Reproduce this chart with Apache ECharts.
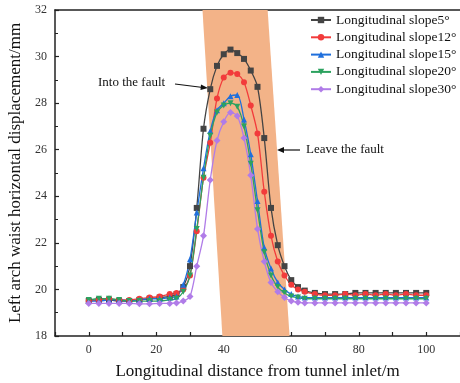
<!DOCTYPE html>
<html>
<head>
<meta charset="utf-8">
<script src="https://cdn.jsdelivr.net/npm/echarts@6/dist/echarts.min.js"></script>
<style>
  html, body { margin: 0; padding: 0; background: #fff; }
  #main { width: 460px; height: 383px; }
</style>
</head>
<body>
<div id="main"></div>
<script>
// distance along tunnel (m)
var distance = [0, 3, 6, 9, 12, 15, 18, 21, 24, 26, 28, 30, 32, 34, 36, 38, 40, 42, 44, 46, 48,
    50, 52, 54, 56, 58, 60, 62, 64, 67, 70, 73, 76, 79, 82, 85, 88, 91, 94, 97, 100];

var slope5 = [19.5, 19.55, 19.55, 19.5, 19.5, 19.55, 19.6, 19.65, 19.7, 19.8, 20.1, 21.0, 23.5, 26.9, 28.6, 29.6, 30.1, 30.3, 30.15, 29.9, 29.4,
    28.7, 26.5, 23.5, 21.9, 21.0, 20.4, 20.1, 19.95, 19.85, 19.8, 19.8, 19.8, 19.85, 19.85, 19.85, 19.85, 19.85, 19.85, 19.85, 19.85];
var slope12 = [19.5, 19.55, 19.6, 19.55, 19.55, 19.6, 19.65, 19.7, 19.8, 19.85, 20.0, 20.6, 22.5, 24.8, 26.3, 28.2, 29.1, 29.3, 29.25, 28.9, 27.9,
    26.7, 24.2, 22.3, 21.2, 20.6, 20.2, 20.0, 19.9, 19.8, 19.75, 19.75, 19.8, 19.75, 19.8, 19.75, 19.8, 19.75, 19.8, 19.75, 19.75];
var slope15 = [19.5, 19.5, 19.55, 19.55, 19.5, 19.55, 19.6, 19.6, 19.65, 19.7, 20.2, 21.3, 23.3, 25.2, 26.8, 27.7, 28.0, 28.3, 28.35, 27.3, 25.8,
    23.8, 21.8, 20.9, 20.3, 20.0, 19.8, 19.7, 19.65, 19.65, 19.65, 19.65, 19.65, 19.65, 19.65, 19.65, 19.65, 19.65, 19.65, 19.65, 19.65];
var slope20 = [19.55, 19.6, 19.6, 19.55, 19.5, 19.5, 19.5, 19.5, 19.55, 19.6, 19.9, 20.6, 22.6, 24.8, 26.6, 27.6, 27.9, 28.0, 27.85, 27.0, 25.4,
    23.4, 21.6, 20.6, 20.1, 19.85, 19.7, 19.65, 19.6, 19.6, 19.6, 19.6, 19.6, 19.6, 19.6, 19.6, 19.6, 19.6, 19.6, 19.6, 19.6];
var slope30 = [19.4, 19.4, 19.4, 19.4, 19.4, 19.38, 19.38, 19.4, 19.4, 19.42, 19.5, 19.7, 21.0, 22.3, 24.7, 26.4, 27.2, 27.6, 27.45, 26.5, 24.9,
    22.6, 21.2, 20.3, 19.9, 19.65, 19.5, 19.45, 19.42, 19.42, 19.42, 19.42, 19.42, 19.42, 19.42, 19.42, 19.42, 19.42, 19.42, 19.42, 19.42];

var seriesNames = ['Longitudinal slope5°', 'Longitudinal slope12°', 'Longitudinal slope15°',
    'Longitudinal slope20°', 'Longitudinal slope30°'];
var seriesValues = [slope5, slope12, slope15, slope20, slope30];
var colors = ['#444444', '#f23b3b', '#1f6fdc', '#2ca25f', '#b07ce8'];
var symbols = ['rect', 'circle', 'triangle', 'triangle', 'diamond'];
var rotates = [0, 0, 0, 180, 0];

// fault zone corners: [distance, displacement]
var faultTop = [[33.7, 32], [53, 32]];
var faultBottom = [[59.5, 18], [39.6, 18]];

function pairs(xs, ys) {
    var out = [];
    for (var i = 0; i < xs.length; i++) out.push([xs[i], ys[i]]);
    return out;
}

var serif = '"Liberation Serif", "Times New Roman", serif';

var series = [{
    type: 'custom',
    name: 'fault',
    silent: true,
    z: 1,
    renderItem: function (params, api) {
        var pts = faultTop.concat(faultBottom).map(function (p) { return api.coord(p); });
        return {
            type: 'polygon',
            shape: { points: pts },
            style: { fill: '#f3b388' }
        };
    },
    data: [[0, 0]]
}];

for (var i = 0; i < seriesNames.length; i++) {
    series.push({
        name: seriesNames[i],
        type: 'line',
        z: 3,
        data: pairs(distance, seriesValues[i]),
        symbol: symbols[i],
        symbolRotate: rotates[i],
        symbolSize: i === 4 ? 7 : 6,
        showAllSymbol: true,
        smooth: 0.3,
        lineStyle: { width: 1.3, color: colors[i] },
        itemStyle: { color: colors[i] }
    });
}

var option = {
    animation: false,
    backgroundColor: '#ffffff',
    grid: { left: 55, right: 0, top: 10, bottom: 47, outerBoundsMode: 'none' },
    legend: {
        data: seriesNames,
        orient: 'vertical',
        left: 305,
        top: 8,
        itemGap: 3.3,
        itemWidth: 20,
        itemHeight: 8,
        textStyle: { fontFamily: serif, fontSize: 13.5, color: '#111' }
    },
    xAxis: [{
        type: 'value',
        min: -10,
        max: 110,
        interval: 10,
        name: 'Longitudinal distance from tunnel inlet/m',
        nameLocation: 'middle',
        nameGap: 27,
        nameTextStyle: { fontFamily: serif, fontSize: 17, color: '#111' },
        axisLine: { show: true, onZero: false, lineStyle: { color: '#222', width: 1.5 } },
        axisTick: { inside: true, length: 4, lineStyle: { color: '#222', width: 1.2 } },
        axisLabel: {
            fontFamily: serif, fontSize: 12, color: '#333', margin: 8,
            formatter: function (v) { return (v % 20 === 0 && v >= 0 && v <= 100) ? v : ''; }
        },
        splitLine: { show: false }
    }, {
        type: 'value',
        position: 'top',
        min: -10,
        max: 110,
        axisLine: { show: true, onZero: false, lineStyle: { color: '#222', width: 1.5 } },
        axisTick: { show: false },
        axisLabel: { show: false },
        splitLine: { show: false }
    }],
    yAxis: {
        type: 'value',
        min: 18,
        max: 32,
        interval: 2,
        name: 'Left arch waist horizontal displacement/mm',
        nameLocation: 'middle',
        nameGap: 21,
        nameTextStyle: { fontFamily: serif, fontSize: 17, color: '#111' },
        axisLine: { show: true, onZero: false, lineStyle: { color: '#222', width: 1.5 } },
        axisTick: { inside: true, length: 4, lineStyle: { color: '#222', width: 1.2 } },
        minorTick: { show: true, splitNumber: 2, length: 3, lineStyle: { color: '#222' } },
        axisLabel: { fontFamily: serif, fontSize: 12, color: '#333', margin: 8 },
        splitLine: { show: false }
    },
    graphic: [
        { type: 'text', left: 98, top: 76, style: { text: 'Into the fault', font: '13px ' + serif, fill: '#111' } },
        { type: 'line', shape: { x1: 175, y1: 84, x2: 203, y2: 87.5 }, style: { stroke: '#111', lineWidth: 1.2 } },
        { type: 'polygon', shape: { points: [[208, 88], [201, 84.5], [200.5, 90]] }, style: { fill: '#111' } },
        { type: 'text', left: 306, top: 143, style: { text: 'Leave the fault', font: '13px ' + serif, fill: '#111' } },
        { type: 'line', shape: { x1: 300, y1: 150, x2: 283, y2: 150 }, style: { stroke: '#111', lineWidth: 1.2 } },
        { type: 'polygon', shape: { points: [[277, 150], [284, 147], [284, 153]] }, style: { fill: '#111' } }
    ],
    series: series
};

var chart = echarts.init(document.getElementById('main'), null, { renderer: 'canvas' });
chart.setOption(option);
</script>
</body>
</html>
